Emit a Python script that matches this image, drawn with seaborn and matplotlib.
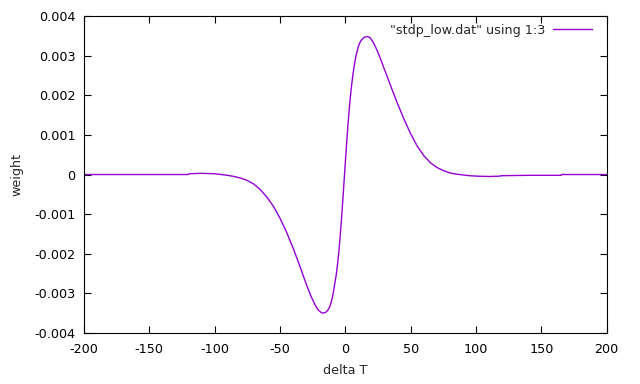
import numpy as np
import pandas as pd
import matplotlib
matplotlib.use("Agg")
import matplotlib.pyplot as plt
import seaborn as sns
from matplotlib.ticker import FormatStrFormatter

# values ("stdp_low.dat", column 1 vs 3)
delta_t = [-200, -120, -119.5, -110, -100, -95, -90, -85, -80, -75, -70, -65,
           -60, -55, -50, -45, -40, -35, -32, -29, -26, -23, -21, -19, -17.5,
           -16, -15, -14, -13, -12, -11, -10, -9, -8, -7, -6, -5, -4, -3, -2,
           -1, 0, 1, 2, 3, 4, 5, 6, 7, 8, 9, 10, 11, 12, 13, 14, 15, 16, 17,
           18, 19, 20, 22, 24, 26, 28, 30, 33, 36, 40, 45, 50, 55, 60, 65, 70,
           75, 80, 85, 90, 95, 100, 110, 118.5, 119, 140, 165, 165.5, 200]
weight = [0.0, 0.0, 0.00002, 0.00003, 0.00002, 0.0, -0.00002, -0.00005,
          -0.00009, -0.00015, -0.00024, -0.00038, -0.00057, -0.0008, -0.0011,
          -0.00145, -0.00185, -0.00229, -0.00257, -0.00284, -0.00309,
          -0.0033, -0.00341, -0.00347, -0.0035, -0.00349, -0.00348, -0.00345,
          -0.00341, -0.00335, -0.00325, -0.00312, -0.00295, -0.00275,
          -0.00255, -0.00229, -0.00198, -0.0016, -0.00117, -0.0007, -0.00021,
          0.00029, 0.00077, 0.00123, 0.00165, 0.002, 0.0023, 0.00256, 0.00278,
          0.00296, 0.00311, 0.00323, 0.00332, 0.00338, 0.00342, 0.00345,
          0.00347, 0.00348, 0.00348, 0.00347, 0.00345, 0.00341, 0.0033,
          0.00316, 0.003, 0.00283, 0.00265, 0.00239, 0.00213, 0.00179,
          0.00139, 0.00103, 0.00072, 0.00048, 0.0003, 0.00018, 0.0001, 0.00004,
          0.00001, -0.00001, -0.00003, -0.00004, -0.00005, -0.00004, -0.00003,
          -0.00002, -0.00002, 0.0, 0.0]

df = pd.DataFrame({"delta T": delta_t, "weight": weight})

sns.set_style("ticks")
plt.rcParams["font.family"] = ["DejaVu Sans"]
plt.rcParams["axes.unicode_minus"] = False
fs = 9.2

fig = plt.figure(figsize=(6.4, 3.84), dpi=100)
ax = fig.add_axes([0.131, 0.133, 0.817, 0.825])

sns.lineplot(data=df, x="delta T", y="weight", color="#9400d3", linewidth=1,
             label='"stdp_low.dat" using 1:3', ax=ax, sort=False)

ax.set_xlim(-200, 200)
ax.set_ylim(-0.004, 0.004)
ax.set_xticks(np.arange(-200, 201, 50))
ax.set_yticks(np.arange(-0.004, 0.00401, 0.001))
ax.yaxis.set_major_formatter(FormatStrFormatter("%g"))
ax.tick_params(direction="in", length=5, width=0.8, top=True, right=True,
               labelsize=fs, colors="black")
ax.tick_params(axis="x", pad=7)
ax.tick_params(axis="y", pad=6)
for s in ax.spines.values():
    s.set_linewidth(0.8)
    s.set_color("black")
ax.set_xlabel("delta T", fontsize=fs, labelpad=6)
ax.set_ylabel("weight", fontsize=fs, labelpad=8)

leg = ax.legend(loc="upper right", bbox_to_anchor=(0.9713, 0.976),
                frameon=False, markerfirst=False, fontsize=fs,
                handlelength=3.05, handletextpad=0.55, borderpad=0,
                borderaxespad=0)

fig.savefig("out.png", dpi=100)
